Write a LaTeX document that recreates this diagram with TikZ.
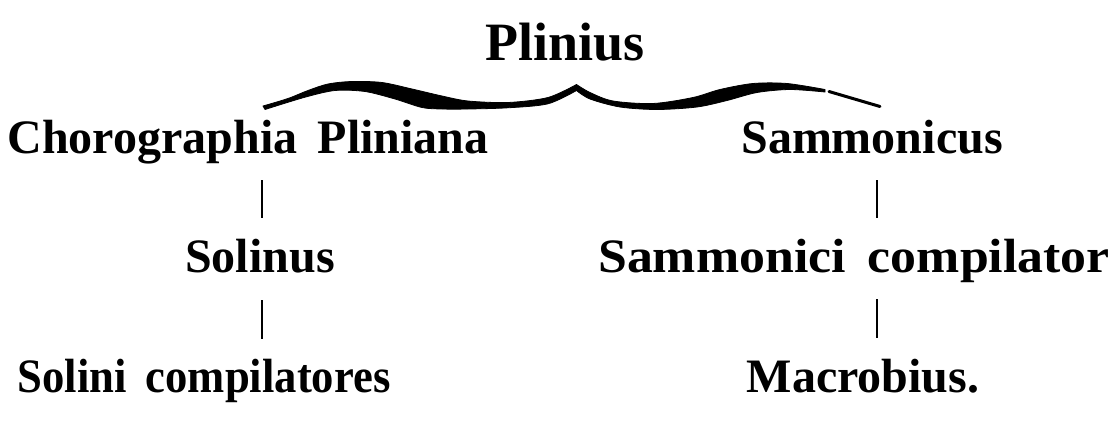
\documentclass[tikz,border=0pt]{standalone}
\usepackage{fontspec}
\usepackage{graphicx}
\setmainfont{Liberation Serif}[WordSpace=1.7]
\begin{document}
\begin{tikzpicture}[x=1pt,y=-1pt,
  lbl/.style={anchor=base,inner sep=0pt,font=\bfseries\fontsize{48}{50}\selectfont},
  conn/.style={line width=2pt},
  brace/.style={fill=black,draw=black,line width=0.8pt,line join=round}]
\useasboundingbox (0,0) rectangle (1119,431);
\node[lbl,font=\bfseries\fontsize{54}{56}\selectfont] (plin) at (565,60) {Plinius};
\node[lbl] (chor) at (248,153) {Chorographia Pliniana};
\node[lbl] (samm) at (872,153) {Sammonicus};
\node[lbl] (sol) at (260,272) {Solinus};
\node[lbl] (scomp) at (854,272) {\scalebox{1.08}[1]{Sammonici compilator}};
\node[lbl] (solc) at (204,392) {\scalebox{0.93}[1]{Solini compilatores}};
\node[lbl] (macr) at (863,392) {Macrobius.};
% brace
\path[brace] plot[smooth,tension=0.5] coordinates {(263,106) (288,98.5) (308,90.5) (328,84) (352,81.5) (382,82.5) (412,89) (442,96) (468,101) (508,102.5) (548,97.5) (576.5,84.5)}
  -- plot[smooth,tension=0.5] coordinates {(576.5,84.5) (590,92.5) (613,101) (653,103.5) (693,97.5) (720,89.5) (753,83.5) (787,83.5) (825,89.5)}
  -- plot[smooth,tension=0.5] coordinates {(825,92) (790,89.5) (757,92.5) (727,100.5) (697,107) (657,109.5) (620,107) (590,99) (576.5,90.5)}
  -- plot[smooth,tension=0.5] coordinates {(576.5,90.5) (548,103.8) (508,107.8) (468,109) (442,109) (422,107.5) (395,99) (365,91.5) (335,90.5) (305,97.2) (265,109.5)}
  -- cycle;
\coordinate (ta) at (829,91.5); \coordinate (tb) at (880,106.5);
\draw[line width=3pt,line cap=round] (ta) -- (tb);
% connectors
\coordinate (l1a) at (262,180); \coordinate (l1b) at (262,218);
\coordinate (l2a) at (262,300); \coordinate (l2b) at (262,339);
\coordinate (r1a) at (877,180); \coordinate (r1b) at (877,218);
\coordinate (r2a) at (877,299); \coordinate (r2b) at (877,338);
\draw[conn] (l1a) -- (l1b);
\draw[conn] (l2a) -- (l2b);
\draw[conn] (r1a) -- (r1b);
\draw[conn] (r2a) -- (r2b);
\end{tikzpicture}
\end{document}
